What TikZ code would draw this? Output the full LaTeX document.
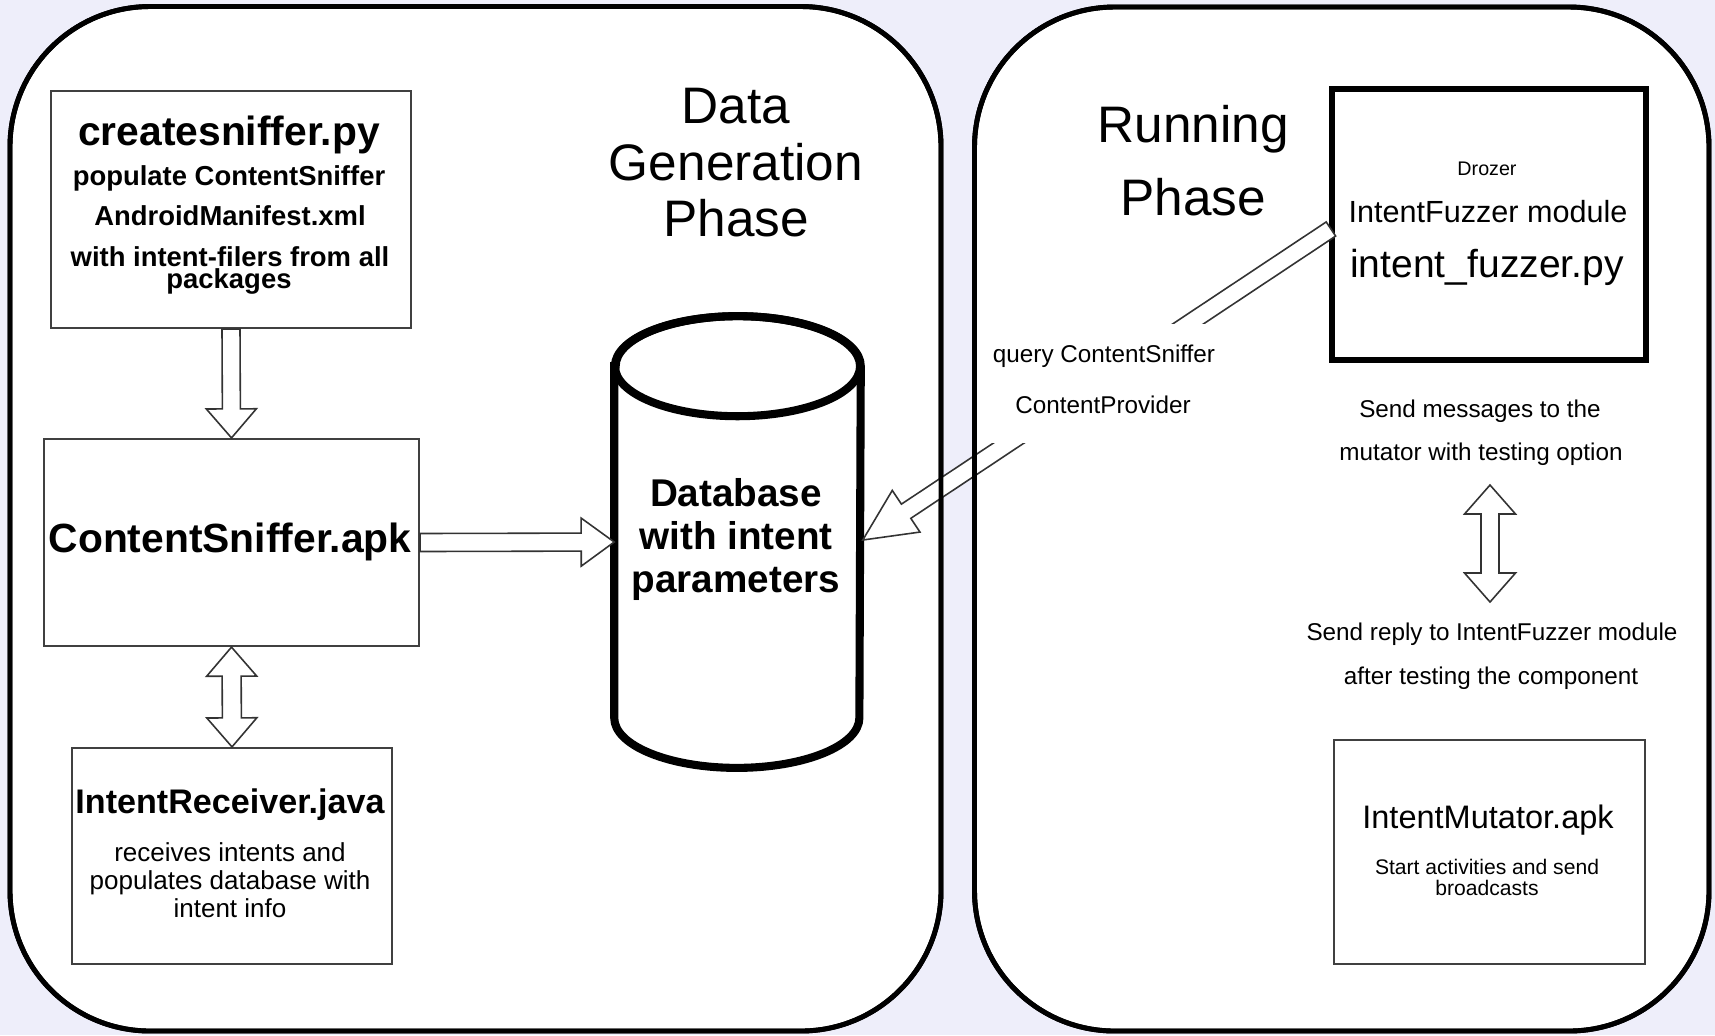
\documentclass[tikz,border=0pt]{standalone}
\usepackage{fontspec}
\setmainfont{Liberation Sans}
\usetikzlibrary{calc}
\definecolor{bglav}{RGB}{238,238,250}
\newcommand\hollowarrow[5]{%
  \coordinate (haA) at #1;
  \coordinate (haB) at #2;
  \coordinate (haH) at ($(haB)!#5!(haA)$);
  \draw[harrow] ($(haA)!#3!90:(haB)$) -- ($(haH)!#3!-90:(haA)$) -- ($(haH)!#4!-90:(haA)$)
    -- (haB) -- ($(haH)!#4!90:(haA)$) -- ($(haH)!#3!90:(haA)$) -- ($(haA)!#3!-90:(haB)$) -- cycle;
}
\newcommand\doublehollow[5]{%
  \coordinate (daA) at #1;
  \coordinate (daB) at #2;
  \coordinate (daH) at ($(daA)!#5!(daB)$);
  \coordinate (daK) at ($(daB)!#5!(daA)$);
  \draw[harrow] (daA) -- ($(daH)!#4!90:(daB)$) -- ($(daH)!#3!90:(daB)$) -- ($(daK)!#3!-90:(daA)$)
    -- ($(daK)!#4!-90:(daA)$) -- (daB) -- ($(daK)!#4!90:(daA)$) -- ($(daK)!#3!90:(daA)$)
    -- ($(daH)!#3!-90:(daB)$) -- ($(daH)!#4!-90:(daB)$) -- cycle;
}
\begin{document}
\begin{tikzpicture}[x=0.01cm,y=-0.01cm,
  panel/.style={line width=1.4pt, draw=black, rounded corners=1.4cm},
  box/.style={draw=black!75, line width=0.6pt, fill=white, inner sep=0pt},
  thickbox/.style={draw=black, line width=1.7pt, fill=white, inner sep=0pt},
  harrow/.style={draw=black!80, line width=0.45pt, fill=white, line join=miter},
  dbline/.style={line width=2.3pt, draw=black},
  txt/.style={anchor=base, inner sep=0pt},
  ftitle/.style={txt, font=\fontsize{14.6pt}{17pt}\selectfont},
  fbig/.style={txt, font=\fontsize{11.6pt}{14pt}\selectfont\bfseries},
  fdb/.style={txt, font=\fontsize{11pt}{13pt}\selectfont\bfseries},
  ffuzz/.style={txt, font=\fontsize{11.1pt}{13pt}\selectfont},
  frecv/.style={txt, font=\fontsize{9.7pt}{12pt}\selectfont\bfseries},
  fmut/.style={txt, font=\fontsize{9.25pt}{11pt}\selectfont},
  fmod/.style={txt, font=\fontsize{8.7pt}{10pt}\selectfont},
  fpop/.style={txt, font=\fontsize{7.8pt}{9pt}\selectfont\bfseries},
  frec/.style={txt, font=\fontsize{7.4pt}{9pt}\selectfont},
  fsend/.style={txt, font=\fontsize{6.9pt}{8pt}\selectfont},
  fstart/.style={txt, font=\fontsize{6pt}{7pt}\selectfont},
  fdroz/.style={txt, font=\fontsize{5.6pt}{7pt}\selectfont}]
\useasboundingbox (0,0) rectangle (1715,1035);
\fill[bglav] (0,0) rectangle (1715,1035);
% panels
\draw[panel, fill=white] (10,6.5) rectangle (941,1031);
\draw[panel, fill=white] (974.5,7) rectangle (1709,1031);
% boxes
\node[box, minimum width=3.6cm, minimum height=2.37cm] (cs) at (231,209.5) {};
\node[box, minimum width=3.75cm, minimum height=2.07cm] (sniff) at (231.5,542.5) {};
\node[box, minimum width=3.2cm, minimum height=2.16cm] (recv) at (232,856) {};
\node[thickbox, minimum width=3.14cm, minimum height=2.70cm] (fuzz) at (1489,224.5) {};
\node[box, minimum width=3.11cm, minimum height=2.24cm] (mut) at (1489.5,852) {};
\node[inner sep=0pt, minimum width=2.45cm, minimum height=4.5cm] (db) at (737.5,542) {};
% database cylinder
\draw[dbline, fill=white] ($(db.north west)+(0,50)$) -- ($(db.south west)+(0,-50)$)
  arc[start angle=180, end angle=360, x radius=1.225cm, y radius=0.5cm]
  -- ($(db.north east)+(0,50)$)
  arc[start angle=0, end angle=180, x radius=1.225cm, y radius=0.5cm] -- cycle;
\draw[dbline] ($(db.north)+(0,50)$) ellipse [x radius=1.225cm, y radius=0.5cm];
% texts left panel
\node[ftitle] (dg1) at (736,123) {Data};
\node[ftitle] (dg2) at (736,180) {Generation};
\node[ftitle] (dg3) at (736,236) {Phase};
\node[fbig] (cs1) at (229,145) {createsniffer.py};
\node[fpop] (cs2) at (229,185) {populate ContentSniffer};
\node[fpop] (cs3) at (230,225) {AndroidManifest.xml};
\node[fpop] (cs4) at (230,266) {with intent-filers from all};
\node[fpop] (cs5) at (229,288) {packages};
\node[fbig] (sn1) at (230,552) {ContentSniffer.apk};
\node[frecv] (rc1) at (230,813) {IntentReceiver.java};
\node[frec] (rc2) at (230,861) {receives intents and};
\node[frec] (rc3) at (230,889) {populates database with};
\node[frec] (rc4) at (230,917) {intent info};
\node[fdb] (db1) at (736,506) {Database};
\node[fdb] (db2) at (736,549) {with intent};
\node[fdb] (db3) at (736,592) {parameters};
% texts right panel
\node[ftitle] (rp1) at (1193,142) {Running};
\node[ftitle] (rp2) at (1193,215) {Phase};
\node[fdroz] (fz1) at (1487,175) {Drozer};
\node[fmod] (fz2) at (1488,222) {IntentFuzzer module};
\node[ffuzz] (fz3) at (1487,277) {intent\_fuzzer.py};
\node[fsend] (q1) at (1104,362) {query ContentSniffer};
\node[fsend] (q2) at (1103,413) {ContentProvider};
\node[fsend] (msg1) at (1480,417) {Send messages to the};
\node[fsend] (msg2) at (1481,460) {mutator with testing option};
\node[fsend] (rep1) at (1492,640) {Send reply to IntentFuzzer module};
\node[fsend] (rep2) at (1491,684) {after testing the component};
\node[fmut] (mu1) at (1488,828) {IntentMutator.apk};
\node[fstart] (mu2) at (1487,874) {Start activities and send};
\node[fstart] (mu3) at (1487,895) {broadcasts};
% arrows
\hollowarrow{(cs.south)}{(sniff.north)}{0.09cm}{0.25cm}{0.29cm}
\hollowarrow{(sniff.east)}{(db.west)}{0.09cm}{0.24cm}{0.33cm}
\doublehollow{(sniff.south)}{(recv.north)}{0.095cm}{0.25cm}{0.29cm}
\doublehollow{($(msg2.base)+(9,25)$)}{($(rep1.base)+(-2,-38)$)}{0.09cm}{0.255cm}{0.29cm}
\begin{scope}
  \clip (0,0) rectangle (1715,323);
  \hollowarrow{($(fuzz.west)+(2,4.5)$)}{($(db.east)+(2,-2)$)}{0.085cm}{0.25cm}{0.52cm}
\end{scope}
\begin{scope}
  \clip (0,443) rectangle (1715,1035);
  \hollowarrow{($(fuzz.west)+(2,4.5)$)}{($(db.east)+(2,-2)$)}{0.085cm}{0.25cm}{0.52cm}
\end{scope}
% panel borders on top
\draw[panel] (10,6.5) rectangle (941,1031);
\draw[panel] (974.5,7) rectangle (1709,1031);
\end{tikzpicture}
\end{document}
